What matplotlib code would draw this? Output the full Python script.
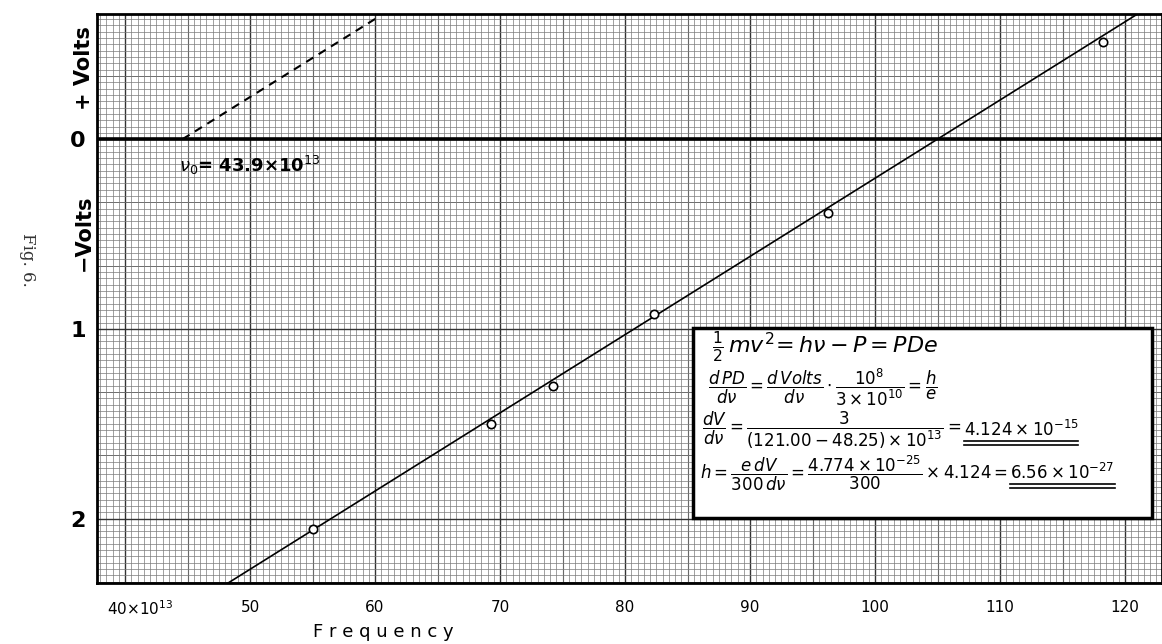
import matplotlib
matplotlib.use("Agg")
import matplotlib.pyplot as plt
from matplotlib.ticker import MultipleLocator
from matplotlib.lines import Line2D
import matplotlib.transforms as mtransforms
import numpy as np

# ---- data ----
freq = [55.0, 69.3, 74.2, 82.3, 96.2, 118.2]          # x 10^13 Hz
volts = [-2.056, -1.502, -1.302, -0.923, -0.390, 0.511]
fit_freq = [48.25, 121.00]
fit_volts = [-2.34, 0.66]
dash_freq = [44.6, 60.4]
dash_volts = [0.0, 0.65]
xtick_vals = [40, 50, 60, 70, 80, 90, 100, 110, 120]
xtick_labels = [r"40×10$^{13}$", "50", "60", "70", "80", "90", "100", "110", "120"]
ytick_vals = [0, -1, -2]
ytick_labels = ["0", "1", "2"]

W, H = 1162, 644
fig = plt.figure(figsize=(W / 100, H / 100), dpi=100)
fig.patch.set_facecolor("white")
plt.rcParams["mathtext.fontset"] = "dejavusans"

def fx(x):
    return x / W

def fy(y):
    return 1 - y / H

ax = fig.add_axes([fx(97), fy(583), (1162 - 97) / W, (583 - 14) / H])
ax.set_xlim(37.76, 122.96)
ax.set_ylim(-2.34, 0.66)

# graph-paper grid
ax.set_xticks(xtick_vals)
ax.set_xticklabels(xtick_labels)
ax.set_yticks(ytick_vals)
ax.set_yticklabels(ytick_labels)
ax.xaxis.set_minor_locator(MultipleLocator(0.5))
ax.yaxis.set_minor_locator(MultipleLocator(1 / 30))
ax.grid(which="minor", color="#7a7a7a", lw=0.5, zorder=0)
ax.grid(which="major", color="#333333", lw=1.0, zorder=0)
for xv in np.arange(35, 125, 10):
    ax.axvline(xv, color="#444444", lw=0.8, zorder=0)
for yv in np.arange(-7, 3) / 3:
    ax.axhline(yv, color="#555555", lw=0.7, zorder=0)
ax.set_axisbelow(True)

ax.tick_params(which="both", length=0)
ax.tick_params(axis="x", pad=12, labelsize=11)
ax.tick_params(axis="y", pad=8, labelsize=16)
for lab in ax.get_yticklabels():
    lab.set_fontweight("bold")
first = ax.get_xticklabels()[0]
first.set_transform(first.get_transform() +
                    mtransforms.ScaledTranslation(15 / 100, 0, fig.dpi_scale_trans))
for s in ax.spines.values():
    s.set_linewidth(2)
    s.set_color("black")

# zero line
ax.axhline(0, color="black", lw=2.6, zorder=3)

# fitted line and dashed line
ax.plot(fit_freq, fit_volts, color="black", lw=1.2, zorder=4)
ax.plot(dash_freq, dash_volts, color="black", lw=1.5, ls=(0, (4, 3)), zorder=4)

# data points
ax.plot(freq, volts, "o", mfc="white", mec="black", mew=1.2, ms=6, zorder=5)

# nu_0 annotation
ax.text(44.3, -0.14, r"$\nu_0$= 43.9×10$^{13}$", fontsize=13, fontweight="bold",
        ha="left", va="center", zorder=6)

ax.set_xlabel("F r e q u e n c y", fontsize=13)
ax.xaxis.set_label_coords((383 - 97) / (1162 - 97), -0.07)

# axis side labels
fig.text(fx(84), fy(68), "+ Volts", rotation=90, fontsize=15, fontweight="bold",
         ha="center", va="center")
fig.text(fx(84), fy(233), "−Volts", rotation=90, fontsize=15, fontweight="bold",
         ha="center", va="center")
fig.text(fx(27), fy(260), "Fig. 6.", rotation=-90, fontsize=12, family="DejaVu Serif",
         ha="center", va="center", color="#333333")

# formula box
box = plt.Rectangle(((693 - 97) / 1065, (583 - 518) / 569), (1152 - 693) / 1065,
                    (518 - 328) / 569, transform=ax.transAxes, facecolor="white",
                    edgecolor="black", lw=2.5, zorder=7)
ax.add_patch(box)

tk = dict(fontsize=12, ha="left", va="center", zorder=8)
fig.text(fx(712), fy(347), r"$\frac{1}{2}\,mv^2\!=h\nu - P = PDe$", fontsize=16,
         ha="left", va="center", zorder=8)
fig.text(fx(708), fy(387),
         r"$\dfrac{d\,PD}{d\nu}=\dfrac{d\,Volts}{d\nu}\cdot\dfrac{10^8}{3\times10^{10}}=\dfrac{h}{e}$",
         **tk)
t3a = fig.text(fx(702), fy(430),
               r"$\dfrac{dV}{d\nu}=\dfrac{3}{(121.00-48.25)\times10^{13}}=$", **tk)
t4a = fig.text(fx(700), fy(473),
               r"$h=\dfrac{e\,dV}{300\,d\nu}=\dfrac{4.774\times10^{-25}}{300}\times4.124=$", **tk)

fig.canvas.draw()
r = fig.canvas.get_renderer()

def underlined(prev, txt):
    bb = prev.get_window_extent(r)
    x0 = bb.x1 / W + 0.002
    t = fig.text(x0, prev.get_position()[1], txt, **tk)
    fig.canvas.draw()
    b2 = t.get_window_extent(r)
    y0 = b2.y0 / H
    for dy in (-0.002, -0.008):
        fig.add_artist(Line2D([b2.x0 / W, b2.x1 / W], [y0 + dy, y0 + dy],
                              color="black", lw=1.2, zorder=9))
    return t

underlined(t3a, r"$4.124\times10^{-15}$")
underlined(t4a, r"$6.56\times10^{-27}$")

fig.savefig("out.png", dpi=100, facecolor="white")
